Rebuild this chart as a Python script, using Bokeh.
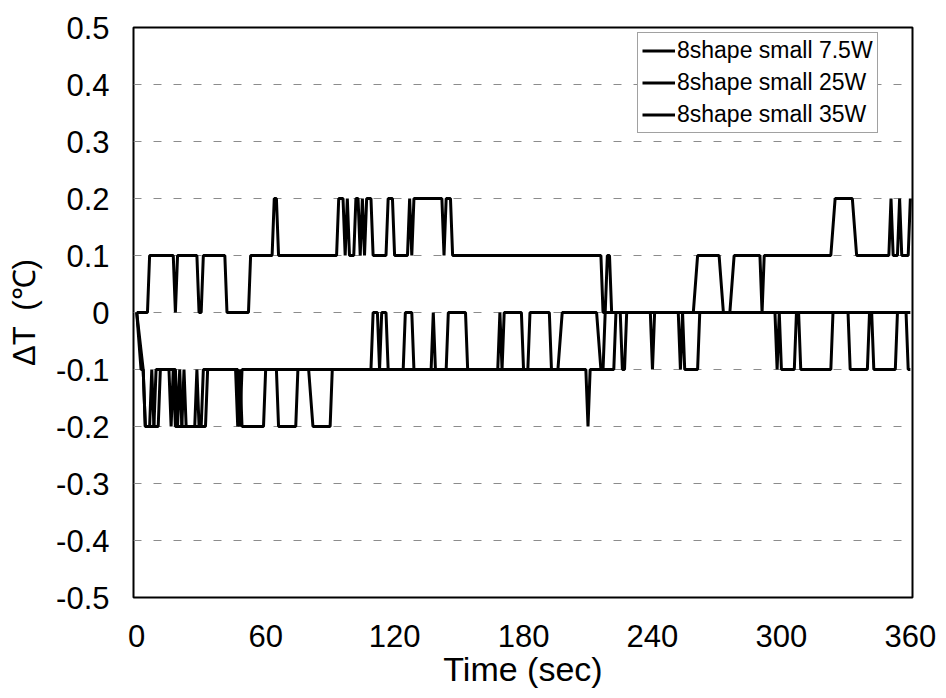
from bokeh.plotting import figure
from bokeh.models import Range1d, FixedTicker, NumeralTickFormatter, Legend, LegendItem
from bokeh.embed import file_html
from bokeh.resources import INLINE

# Temperature difference ΔT (°C) against time (s); each series is listed
# as the vertices of its trace.
t_small_7_5w = [0, 5, 6, 17, 18, 19, 28, 29, 30, 31, 41, 42, 52, 53, 63, 64, 65, 66,
                93, 94, 96, 97, 98, 99, 101, 102, 103, 104, 105, 106, 107, 109, 110,
                116, 117, 119, 120, 126, 127, 128, 129, 142, 143, 144, 146, 147,
                216, 217, 218, 219, 220, 221, 259, 261, 271, 273, 276, 278, 290, 291,
                292, 323, 325, 333, 335, 350, 351, 352, 354, 355, 356, 359, 360]
dT_small_7_5w = [0, 0, 0.1, 0.1, 0, 0.1, 0.1, 0, 0, 0.1, 0.1, 0, 0, 0.1, 0.1, 0.2, 0.2, 0.1,
                 0.1, 0.2, 0.2, 0.1, 0.2, 0.1, 0.1, 0.2, 0.2, 0.1, 0.2, 0.1, 0.2, 0.2, 0.1,
                 0.1, 0.2, 0.2, 0.1, 0.1, 0.2, 0.1, 0.2, 0.2, 0.1, 0.2, 0.2, 0.1,
                 0.1, 0, 0, 0.1, 0.1, 0, 0, 0.1, 0.1, 0, 0, 0.1, 0.1, 0,
                 0.1, 0.1, 0.2, 0.2, 0.1, 0.1, 0.2, 0.1, 0.1, 0.2, 0.1, 0.1, 0.2]

t_small_25w = [0, 2, 3, 4, 8, 9, 15, 16, 17, 18, 21, 22, 23, 32, 33, 46, 47, 48, 49,
               59, 60, 65, 66, 74, 75, 80, 82, 90, 91, 109, 110, 112, 113, 114, 116, 117,
               124, 125, 128, 129, 137, 138, 139, 144, 145, 153, 154, 168, 169, 170, 171,
               179, 180, 182, 183, 192, 193, 196, 198, 214, 216, 222, 223, 225, 226, 227,
               228, 239, 240, 241, 252, 253, 254, 255, 261, 262, 297, 298, 299, 300, 306,
               307, 308, 309, 323, 324, 331, 332, 340, 341, 342, 343, 353, 354, 358, 359, 360]
dT_small_25w = [0, -0.1, -0.1, -0.2, -0.2, -0.1, -0.1, -0.2, -0.1, -0.2, -0.2, -0.1, -0.2, -0.2, -0.1, -0.1, -0.2, -0.1, -0.2,
                -0.2, -0.1, -0.1, -0.2, -0.2, -0.1, -0.1, -0.2, -0.2, -0.1, -0.1, 0, 0, -0.1, 0, 0, -0.1,
                -0.1, 0, 0, -0.1, -0.1, 0, -0.1, -0.1, 0, 0, -0.1, -0.1, 0, -0.1, 0,
                0, -0.1, -0.1, 0, 0, -0.1, -0.1, 0, 0, -0.1, -0.1, 0, 0, -0.1, -0.1,
                0, 0, -0.1, 0, 0, -0.1, 0, -0.1, -0.1, 0, 0, -0.1, 0, -0.1, -0.1,
                0, 0, -0.1, -0.1, 0, 0, -0.1, -0.1, 0, 0, -0.1, -0.1, 0, 0, -0.1, -0.1]

t_small_35w = [0, 3, 4, 6, 7, 8, 10, 11, 18, 19, 20, 21, 27, 28, 29, 30, 31, 47, 48, 49,
               209, 210, 211, 217, 218, 360]
dT_small_35w = [0, -0.1, -0.2, -0.2, -0.1, -0.2, -0.2, -0.1, -0.1, -0.2, -0.1, -0.2, -0.2, -0.1, -0.2, -0.2, -0.1, -0.1, -0.2, -0.1,
                -0.1, -0.2, -0.1, -0.1, 0, 0]

series_names = ["8shape small 7.5W", "8shape small 25W", "8shape small 35W"]
x_ticks = [0, 60, 120, 180, 240, 300, 360]
y_ticks = [-0.5, -0.4, -0.3, -0.2, -0.1, 0, 0.1, 0.2, 0.3, 0.4, 0.5]

FONT = "Liberation Sans"

p = figure(width=946, height=698, output_backend="svg", toolbar_location=None,
           x_range=Range1d(-1.5, 361), y_range=Range1d(-0.5, 0.5),
           min_border_left=133, min_border_right=34, min_border_top=27, min_border_bottom=101)

p.background_fill_color = "white"
p.border_fill_color = "white"
p.outline_line_color = "black"
p.outline_line_width = 2

p.xgrid.grid_line_color = None
p.ygrid.grid_line_color = "#8c8c8c"
p.ygrid.grid_line_dash = "8 12"
p.ygrid.grid_line_width = 1

p.xaxis.ticker = FixedTicker(ticks=x_ticks)
p.yaxis.ticker = FixedTicker(ticks=y_ticks)
p.yaxis.formatter = NumeralTickFormatter(format="0.[0]")

for ax in (p.xaxis, p.yaxis):
    ax.axis_line_color = None
    ax.major_tick_line_color = None
    ax.minor_tick_line_color = None
    ax.major_label_text_font = FONT
    ax.major_label_text_font_size = "31px"
    ax.major_label_text_color = "black"
    ax.axis_label_text_font = FONT
    ax.axis_label_text_font_style = "normal"
    ax.axis_label_text_color = "black"

p.xaxis.major_label_standoff = 21
p.yaxis.major_label_standoff = 18

p.xaxis.axis_label = "Time (sec)"
p.xaxis.axis_label_text_font_size = "34px"
p.xaxis.axis_label_standoff = 0

p.yaxis.axis_label = "ΔT\u2002(℃)"
p.yaxis.axis_label_text_font_size = "31px"
p.yaxis.axis_label_standoff = 11

renderers = []
for t, v in ((t_small_7_5w, dT_small_7_5w), (t_small_25w, dT_small_25w), (t_small_35w, dT_small_35w)):
    renderers.append(p.line(t, v, line_color="black", line_width=3))

legend = Legend(items=[LegendItem(label=name, renderers=[r]) for name, r in zip(series_names, renderers)],
                location=(504, 464), orientation="vertical")
legend.label_text_font = FONT
legend.label_text_font_size = "23px"
legend.label_text_color = "black"
legend.glyph_width = 33
legend.glyph_height = 25
legend.label_height = 25
legend.label_standoff = 2
legend.spacing = 5
legend.padding = 4
legend.margin = 0
legend.border_line_color = "#444444"
legend.border_line_width = 1
legend.background_fill_alpha = 1
p.add_layout(legend, "center")

open("out.html", "w").write(file_html(p, INLINE))
